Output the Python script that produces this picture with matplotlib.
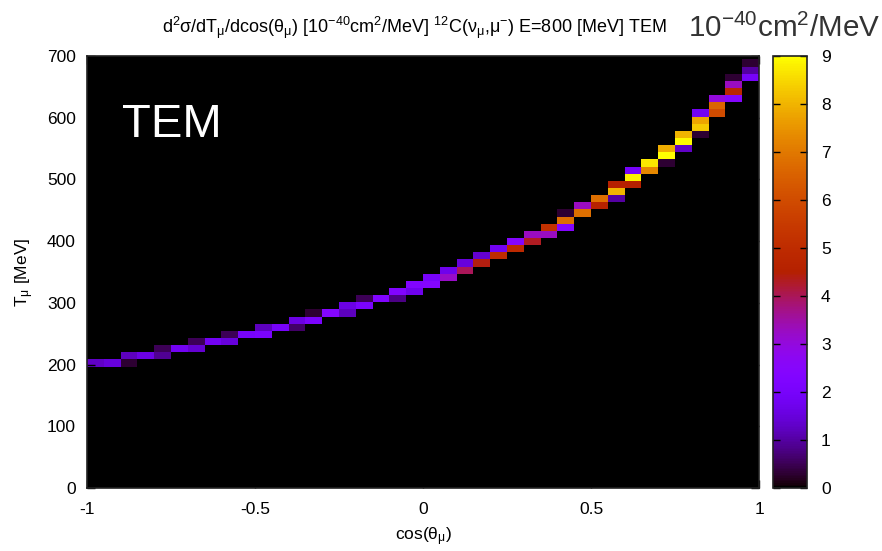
import numpy as np
import matplotlib
matplotlib.use("Agg")
import matplotlib.pyplot as plt

plt.rcParams['font.family'] = ['Liberation Sans', 'DejaVu Sans']
plt.rcParams['mathtext.fontset'] = 'custom'
plt.rcParams['mathtext.rm'] = 'Liberation Sans'
plt.rcParams['mathtext.it'] = 'Liberation Sans:italic'
plt.rcParams['mathtext.bf'] = 'Liberation Sans:bold'

# ---- data -------------------------------------------------------------
n_cos_bins = 40                 # cos(theta) bins from -1 to 1
n_T_bins = 60                   # T bins from 0 to E - m_mu
E_nu = 800.0
m_mu = 105.66

# non-zero cells: cos-bin index, T-bin index, value [1e-40 cm^2/MeV]
cos_bin = [0, 1, 2, 2, 3, 4, 4, 5, 6, 6, 7, 8, 8, 9, 10, 10, 11, 12, 12,
           13, 13, 14, 15, 15, 16, 16, 17, 18, 18, 19, 19, 20, 20, 21, 21,
           22, 22, 23, 23, 24, 24, 25, 25, 26, 26, 27, 27, 28, 28, 28,
           29, 29, 30, 30, 31, 31, 31, 32, 32, 32, 33, 33, 34, 34, 34,
           35, 35, 35, 36, 36, 36, 36, 37, 37, 37, 38, 38, 38, 38, 39, 39, 39]
T_bin = [17, 17, 18, 17, 18, 19, 18, 19, 20, 19, 20, 21, 20, 21, 22, 21, 22, 23, 22,
         24, 23, 24, 25, 24, 26, 25, 26, 27, 26, 28, 27, 29, 28, 30, 29,
         31, 30, 32, 31, 33, 32, 34, 33, 35, 34, 36, 35, 38, 37, 36,
         39, 38, 40, 39, 42, 41, 40, 44, 43, 42, 45, 44, 47, 46, 45,
         49, 48, 47, 52, 51, 50, 49, 54, 53, 52, 57, 56, 55, 54, 59, 58, 57]
value = [1.3, 1.5, 1.2, 0.3, 1.6, 0.5, 0.9, 1.8, 0.5, 1.4, 1.8, 0.5, 1.5, 2.0, 1.2, 2.1, 2.0, 1.6, 0.6,
         0.3, 2.1, 2.4, 1.6, 1.2, 0.5, 2.1, 2.3, 2.3, 0.8, 2.3, 1.7, 2.0, 2.4, 1.7, 3.2,
         1.5, 4.0, 1.4, 4.4, 1.8, 5.0, 2.4, 4.9, 3.3, 4.3, 5.2, 3.3, 0.3, 6.8, 2.4,
         3.3, 6.8, 6.8, 4.6, 4.5, 8.0, 1.0, 2.0, 8.8, 4.5, 8.7, 7.3, 7.9, 9.0, 0.3,
         8.0, 8.9, 1.3, 1.8, 7.8, 8.3, 0.3, 3.0, 6.6, 6.0, 0.3, 3.3, 4.8, 2.4, 0.3, 1.0, 2.0]

x_ticks = [-1, -0.5, 0, 0.5, 1]
x_ticklabels = ['-1', '-0.5', '0', '0.5', '1']
y_ticks = [0, 100, 200, 300, 400, 500, 600, 700]
cb_ticks = list(range(10))

# ---- grid -------------------------------------------------------------
x_edges = np.linspace(-1, 1, n_cos_bins + 1)
T_edges = np.linspace(0, E_nu - m_mu, n_T_bins + 1)
Z = np.zeros((n_T_bins, n_cos_bins))
for i, k, v in zip(cos_bin, T_bin, value):
    Z[k, i] = v

# ---- figure -----------------------------------------------------------
W, H = 882, 551
fig = plt.figure(figsize=(W / 100, H / 100), dpi=100)
ax = fig.add_axes([87 / W, 1 - 488 / H, 672 / W, 432 / H])
cax = fig.add_axes([773 / W, 1 - 488 / H, 34 / W, 432 / H])

ax.set_facecolor('black')
mesh = ax.pcolormesh(x_edges, T_edges, Z, cmap='gnuplot', vmin=0, vmax=9,
                     shading='flat', edgecolors='none')
ax.set_xlim(-1, 1)
ax.set_ylim(0, 700)
ax.set_xticks(x_ticks)
ax.set_xticklabels(x_ticklabels)
ax.set_yticks(y_ticks)
ax.tick_params(direction='in', length=6, width=1, colors='black', labelsize=12.5,
               top=True, right=True, pad=10)
ax.tick_params(axis='y', pad=8)
for s in ax.spines.values():
    s.set_linewidth(1.2)
    s.set_color('#222222')

ax.set_xlabel('cos(θ$_{\\mathrm{μ}}$)', fontsize=12.5, labelpad=6)
ax.set_ylabel('T$_{\\mathrm{μ}}$ [MeV]', fontsize=12.5, labelpad=8)

ax.text(0.052, 0.812, 'TEM', transform=ax.transAxes, color='white',
        fontsize=34, ha='left', va='baseline')

cb = fig.colorbar(mesh, cax=cax, ticks=cb_ticks)
cb.outline.set_linewidth(1.2)
cb.outline.set_edgecolor('#222222')
cax.tick_params(direction='in', length=5, width=1, left=True, right=True,
                labelsize=12.5, pad=10, colors='black')

fig.text(162 / W, 1 - 33 / H,
         'd$^{2}$σ/dT$_{\\mathrm{μ}}$/dcos(θ$_{\\mathrm{μ}}$) [10$^{-40}$cm$^{2}$/MeV] '
         '$^{12}$C(ν$_{\\mathrm{μ}}$,μ$^{-}$) E=800 [MeV] TEM',
         fontsize=13, ha='left', va='baseline')
fig.text(688 / W, 1 - 37 / H, '10$^{-40}$cm$^{2}$/MeV', fontsize=21.3,
         ha='left', va='baseline', color='#333333')

fig.savefig('out.png', dpi=100, facecolor='white')
